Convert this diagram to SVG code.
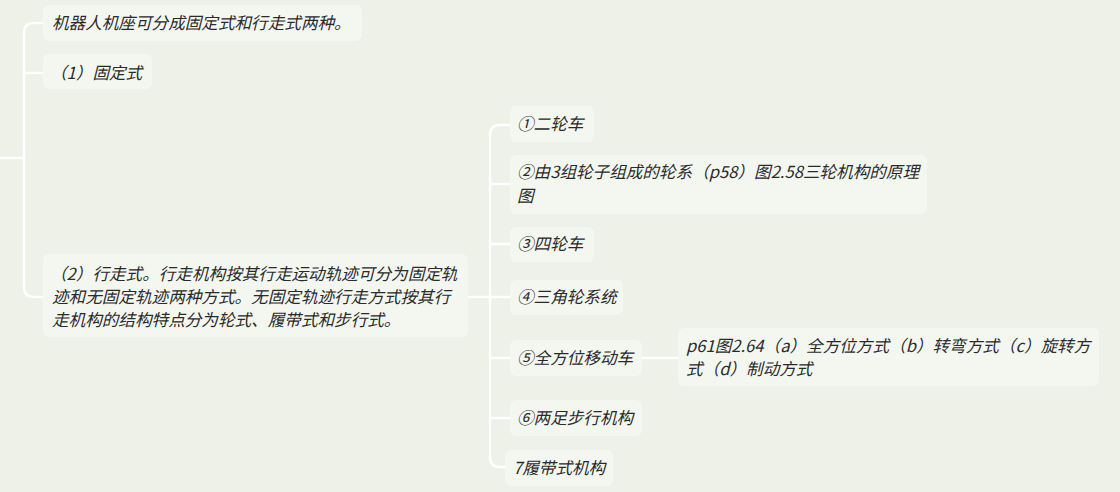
<svg xmlns="http://www.w3.org/2000/svg" width="1120" height="492" viewBox="0 0 1120 492">
<style>
.bg{fill:#edf1e8}
.box{fill:#f4f7f0}
.t{font-family:"Noto Sans CJK SC","Noto Sans",sans-serif;font-size:16.6px;font-style:italic;fill:#2a2a2a}
.c{fill:none;stroke:#ffffff;stroke-width:2.5;stroke-linecap:round}
</style>
<rect class="bg" x="0" y="0" width="1120" height="492"/>
<g id="connectors">
<path class="c" d="M0,158 H24"/>
<path class="c" d="M43,23 H34 Q24,23 24,33 V287 Q24,297 34,297 H43"/>
<path class="c" d="M24,73 H43"/>
<path class="c" d="M468,297 H490"/>
<path class="c" d="M510,125 H500 Q490,125 490,135 V457 Q490,467 500,467 H505"/>
<path class="c" d="M490,184 H510"/>
<path class="c" d="M490,244 H510"/>
<path class="c" d="M490,297 H510"/>
<path class="c" d="M490,358 H510"/>
<path class="c" d="M490,418 H510"/>
<path class="c" d="M642,358 H678"/>
</g>
<g id="n-root-desc">
<rect class="box" x="43" y="5" width="319" height="36" rx="6"/>
<text class="t" x="52" y="29">机器人机座可分成固定式和行走式两种。</text>
</g>
<g id="n-fixed">
<rect class="box" x="43" y="54" width="109" height="35" rx="6"/>
<text class="t" x="50" y="79">（1）固定式</text>
</g>
<g id="n-walking">
<rect class="box" x="43" y="254" width="425" height="83" rx="6"/>
<text class="t" x="50" y="280">（2）行走式。行走机构按其行走运动轨迹可分为固定轨</text>
<text class="t" x="52" y="303">迹和无固定轨迹两种方式。无固定轨迹行走方式按其行</text>
<text class="t" x="52" y="326">走机构的结构特点分为轮式、履带式和步行式。</text>
</g>
<g id="n1">
<rect class="box" x="510" y="106" width="84" height="36" rx="6"/>
<text class="t" x="517" y="130">①二轮车</text>
</g>
<g id="n2">
<rect class="box" x="510" y="155" width="417" height="59" rx="6"/>
<text class="t" x="517" y="178">②由3组轮子组成的轮系（p58）图2.58三轮机构的原理</text>
<text class="t" x="517" y="202">图</text>
</g>
<g id="n3">
<rect class="box" x="510" y="227" width="84" height="35" rx="6"/>
<text class="t" x="517" y="250">③四轮车</text>
</g>
<g id="n4">
<rect class="box" x="510" y="280" width="113" height="35" rx="6"/>
<text class="t" x="517" y="303">④三角轮系统</text>
</g>
<g id="n5">
<rect class="box" x="510" y="340" width="132" height="36" rx="6"/>
<text class="t" x="517" y="364">⑤全方位移动车</text>
</g>
<g id="n5a">
<rect class="box" x="678" y="328" width="421" height="58" rx="6"/>
<text class="t" x="686" y="352">p61图2.64（a）全方位方式（b）转弯方式（c）旋转方</text>
<text class="t" x="686" y="375">式（d）制动方式</text>
</g>
<g id="n6">
<rect class="box" x="510" y="400" width="132" height="36" rx="6"/>
<text class="t" x="517" y="424">⑥两足步行机构</text>
</g>
<g id="n7">
<rect class="box" x="505" y="450" width="108" height="36" rx="6"/>
<text class="t" x="513" y="474">7履带式机构</text>
</g>
</svg>
